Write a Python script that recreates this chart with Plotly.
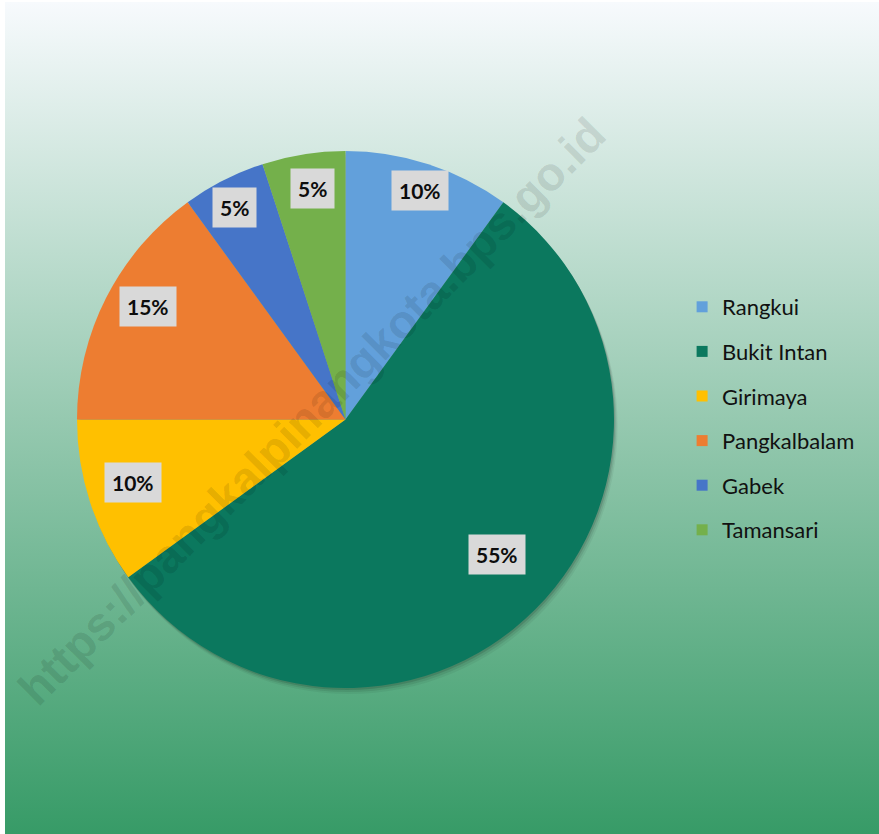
import math
import plotly.graph_objects as go

# ---------------- data ----------------
labels = ["Rangkui", "Bukit Intan", "Girimaya", "Pangkalbalam", "Gabek", "Tamansari"]
values = [10, 55, 10, 15, 5, 5]
colors = ["#62a0db", "#0b785e", "#ffc000", "#ed7d31", "#4675c8", "#74b04b"]
watermark = "https://pangkalpinangkota.bps.go.id"

# ---------------- geometry / style ----------------
W, H = 879, 834
CX, CY, R = 345.5, 419.5, 268.5          # pie centre & radius in px
label_rf = [0.895, 0.757, 0.825, 0.848, 0.889, 0.871]   # label radius fraction
label_dang = [0.0, -3.2, 1.6, 2.9, -0.6, 0.8]           # label angle tweak (deg)
FONT = "Lato"

def px_to_paper(x, y):
    return x / W, 1 - y / H

pie_dom_x = [(CX - R) / W, (CX + R) / W]
pie_dom_y = [1 - (CY + R) / H, 1 - (CY - R) / H]

fig = go.Figure()

# background gradient
fig.add_trace(go.Scatter(
    x=[0, 1, 1, 0, 0], y=[0, 0, 1, 1, 0], mode="lines", fill="toself",
    line=dict(width=0), hoverinfo="skip", showlegend=False,
    fillgradient=dict(type="vertical",
                      colorscale=[[0, "#379b67"], [0.5, "#96c9b0"], [1, "#f7fafd"]]),
))

# soft shadow layers
total = sum(values)
for off, a in [(6, 0.05), (4, 0.08), (2, 0.12)]:
    fig.add_trace(go.Pie(
        values=[total], labels=["shadow"], marker=dict(colors=[f"rgba(0,0,0,{a})"], line=dict(width=0)),
        domain=dict(x=[pie_dom_x[0] + off * 0.6 / W, pie_dom_x[1] + off * 0.6 / W],
                    y=[pie_dom_y[0] - off / H, pie_dom_y[1] - off / H]),
        textinfo="none", hoverinfo="skip", showlegend=False, sort=False,
    ))

fig.add_trace(go.Pie(
    labels=labels, values=values, sort=False, direction="clockwise", rotation=0,
    marker=dict(colors=colors, line=dict(width=0)),
    textinfo="none", showlegend=False, domain=dict(x=pie_dom_x, y=pie_dom_y),
))

# legend entries
for i, (lab, col) in enumerate(zip(labels, colors)):
    fig.add_trace(go.Scatter(
        x=[None], y=[None], mode="markers", name=lab, legendgroup=f"g{i}",
        marker=dict(symbol="square", size=11, color=col),
    ))

annotations = []
# watermark
wx, wy = px_to_paper(311, 411)
annotations.append(dict(
    x=wx, y=wy, xref="paper", yref="paper", xanchor="center", yanchor="middle",
    text=f"<b>{watermark}</b>", showarrow=False,
    textangle=-45, font=dict(family="Liberation Sans", size=47, color="rgba(0,0,0,0.11)"),
))

# data labels
cum = 0
for v, rf, da in zip(values, label_rf, label_dang):
    mid = (cum + v / 2) / total * 2 * math.pi + math.radians(da)
    cum += v
    lx = CX + rf * R * math.sin(mid)
    ly = CY - rf * R * math.cos(mid)
    px, py = px_to_paper(lx, ly)
    annotations.append(dict(
        x=px, y=py, xref="paper", yref="paper", xanchor="center", yanchor="middle",
        text=f"<b>{v / total * 100:.0f}%</b>",
        showarrow=False, bgcolor="#d9d9d9", borderpad=7,
        font=dict(family=FONT, size=21, color="#0d0d0d"),
    ))

fig.update_layout(
    width=W, height=H, margin=dict(l=0, r=0, t=0, b=0),
    paper_bgcolor="white", plot_bgcolor="rgba(0,0,0,0)",
    xaxis=dict(domain=[5 / W, 1], range=[0, 1], visible=False, fixedrange=True),
    yaxis=dict(domain=[0, 1 - 2 / H], range=[0, 1], visible=False, fixedrange=True),
    legend=dict(x=0.776, y=1 - 286 / H, xanchor="left", yanchor="top",
                bgcolor="rgba(0,0,0,0)", tracegroupgap=13,
                font=dict(family=FONT, size=22, color="#111111")),
    annotations=annotations,
    showlegend=True,
)

fig.write_html("out.html", config={"displayModeBar": False},
               post_script="document.body.style.margin='0';")
